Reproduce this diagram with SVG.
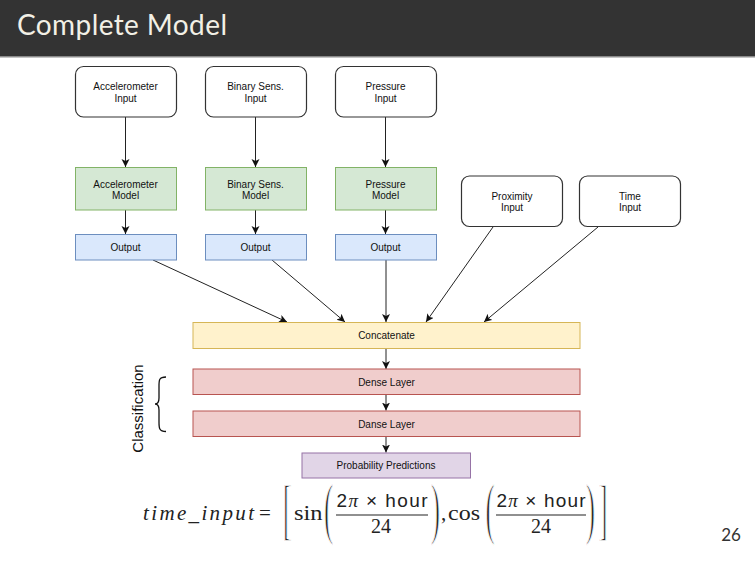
<svg xmlns="http://www.w3.org/2000/svg" width="755" height="566" viewBox="0 0 755 566">
<defs>
<marker id="arr" markerUnits="userSpaceOnUse" markerWidth="10" markerHeight="10" refX="8" refY="4" orient="auto">
<path d="M0,0 L8,4 L0,8 L2,4 Z" fill="#111"/>
</marker>
<style>
.lbl{font-family:"Liberation Sans",Arial,sans-serif;font-size:10px;fill:#111;text-anchor:middle}
.in{fill:#fff;stroke:#333;stroke-width:1.2}
.mdl{fill:#d5e8d4;stroke:#82b366;stroke-width:1}
.out{fill:#dae8fc;stroke:#6c8ebf;stroke-width:1}
.cat{fill:#fff2cc;stroke:#d6b656;stroke-width:1}
.dns{fill:#f0cdcc;stroke:#b85450;stroke-width:1}
.prb{fill:#e1d5e7;stroke:#9673a6;stroke-width:1}
.edge{stroke:#222;stroke-width:1;fill:none;marker-end:url(#arr)}
.ser{font-family:"Liberation Serif","Times New Roman",serif;fill:#222}
.san{font-family:"Liberation Sans",Arial,sans-serif;fill:#222}
.delim{font-family:"Liberation Serif","Times New Roman",serif;fill:#222;stroke:#fff;stroke-width:1.6}
.pi{font-family:"Liberation Serif","Times New Roman",serif;font-style:italic}
</style>
</defs>
<rect x="0" y="0" width="755" height="566" fill="#fff"/>
<g id="header">
<rect x="0" y="0" width="755" height="56" fill="#333333"/>
<rect x="0" y="56" width="755" height="1.5" fill="#8a8a8a"/>
<text x="17" y="35" font-family="Lato,'Open Sans',sans-serif" font-size="28" fill="#f2f0e6" textLength="210">Complete Model</text>
</g>
<g id="connectors">
<path class="edge" d="M125.5,117 V167"/>
<path class="edge" d="M255.5,117 V167"/>
<path class="edge" d="M385.5,117 V167"/>
<path class="edge" d="M125.5,210 V234"/>
<path class="edge" d="M255.5,210 V234"/>
<path class="edge" d="M385.5,210 V234"/>
<path class="edge" d="M153,260 L287,322"/>
<path class="edge" d="M272,260 L345,322"/>
<path class="edge" d="M386,260 V322"/>
<path class="edge" d="M493,227 L426,322"/>
<path class="edge" d="M598,227 L484,322"/>
<path class="edge" d="M386,348 V369"/>
<path class="edge" d="M386,394.5 V410.5"/>
<path class="edge" d="M386,437 V452.5"/>
</g>
<g id="acc-input"><rect class="in" x="75.5" y="66.5" width="101" height="50.5" rx="8"/><text class="lbl" x="125.5" y="90">Accelerometer</text><text class="lbl" x="125.5" y="102">Input</text></g>
<g id="bin-input"><rect class="in" x="205.5" y="66.5" width="101" height="50.5" rx="8"/><text class="lbl" x="255.5" y="90">Binary Sens.</text><text class="lbl" x="255.5" y="102">Input</text></g>
<g id="pres-input"><rect class="in" x="335.5" y="66.5" width="101" height="50.5" rx="8"/><text class="lbl" x="385.5" y="90">Pressure</text><text class="lbl" x="385.5" y="102">Input</text></g>
<g id="acc-model"><rect class="mdl" x="75.5" y="167.5" width="101" height="42.5"/><text class="lbl" x="125.5" y="187.5">Accelerometer</text><text class="lbl" x="125.5" y="199">Model</text></g>
<g id="bin-model"><rect class="mdl" x="205.5" y="167.5" width="101" height="42.5"/><text class="lbl" x="255.5" y="187.5">Binary Sens.</text><text class="lbl" x="255.5" y="199">Model</text></g>
<g id="pres-model"><rect class="mdl" x="335.5" y="167.5" width="101" height="42.5"/><text class="lbl" x="385.5" y="187.5">Pressure</text><text class="lbl" x="385.5" y="199">Model</text></g>
<g id="acc-output"><rect class="out" x="75.5" y="234.5" width="101" height="25.5"/><text class="lbl" x="125.5" y="251">Output</text></g>
<g id="bin-output"><rect class="out" x="205.5" y="234.5" width="101" height="25.5"/><text class="lbl" x="255.5" y="251">Output</text></g>
<g id="pres-output"><rect class="out" x="335.5" y="234.5" width="101" height="25.5"/><text class="lbl" x="385.5" y="251">Output</text></g>
<g id="prox-input"><rect class="in" x="461.5" y="176" width="101" height="50.5" rx="8"/><text class="lbl" x="512" y="199.5">Proximity</text><text class="lbl" x="512" y="211">Input</text></g>
<g id="time-input"><rect class="in" x="579.5" y="176" width="101" height="50.5" rx="8"/><text class="lbl" x="630" y="199.5">Time</text><text class="lbl" x="630" y="211">Input</text></g>
<g id="concatenate"><rect class="cat" x="193" y="322.5" width="387" height="26"/><text class="lbl" x="386.5" y="339">Concatenate</text></g>
<g id="dense1"><rect class="dns" x="193" y="369" width="387" height="25.5"/><text class="lbl" x="386.5" y="385.5">Dense Layer</text></g>
<g id="dense2"><rect class="dns" x="193" y="411" width="387" height="25.5"/><text class="lbl" x="386.5" y="427.5">Danse Layer</text></g>
<g id="prob"><rect class="prb" x="302" y="453" width="168.5" height="25"/><text class="lbl" x="386" y="469">Probability Predictions</text></g>
<g id="classification">
<text x="0" y="0" transform="translate(143,408.5) rotate(-90)" font-family="'Liberation Sans',Arial,sans-serif" font-size="15" fill="#111" text-anchor="middle">Classification</text>
<path d="M166,377 C159,377 159,380 159,386 L159,398 C159,402 158,404 155,404 C158,404 159,406 159,410 L159,422 C159,428 159,431.5 166,431.5" fill="none" stroke="#111" stroke-width="1.3"/>
</g>
<g id="formula">
<text class="ser" x="143" y="520" font-size="21" font-style="italic" textLength="111" lengthAdjust="spacing">time_input</text>
<text class="ser" x="259" y="520" font-size="21">=</text>
<text class="delim" transform="translate(283,531.5) scale(0.38,1)" font-size="67">[</text>
<text class="ser" x="294" y="520" font-size="21" textLength="28.5" lengthAdjust="spacingAndGlyphs">sin</text>
<text class="delim" transform="translate(324,531) scale(0.4,1)" font-size="68">(</text>
<text class="san" x="382" y="506.5" font-size="19" text-anchor="middle" textLength="91" lengthAdjust="spacing">2<tspan class="pi">π</tspan> × hour</text>
<rect x="336" y="514.5" width="92" height="1" fill="#222"/>
<text class="ser" x="381" y="533" font-size="20" text-anchor="middle">24</text>
<text class="delim" transform="translate(431,531) scale(0.4,1)" font-size="68">)</text>
<text class="ser" x="441" y="520" font-size="21">,</text>
<text class="ser" x="448" y="520" font-size="21" textLength="32" lengthAdjust="spacingAndGlyphs">cos</text>
<text class="delim" transform="translate(485.5,531) scale(0.4,1)" font-size="68">(</text>
<text class="san" x="541" y="506.5" font-size="19" text-anchor="middle" textLength="89" lengthAdjust="spacing">2<tspan class="pi">π</tspan> × hour</text>
<rect x="496" y="514.5" width="90" height="1" fill="#222"/>
<text class="ser" x="541" y="533" font-size="20" text-anchor="middle">24</text>
<text class="delim" transform="translate(586,531) scale(0.4,1)" font-size="68">)</text>
<text class="delim" transform="translate(599,531.5) scale(0.38,1)" font-size="67">]</text>
</g>
<text x="731" y="541" font-family="Lato,'Open Sans',sans-serif" font-size="17" fill="#333" text-anchor="middle">26</text>
</svg>
